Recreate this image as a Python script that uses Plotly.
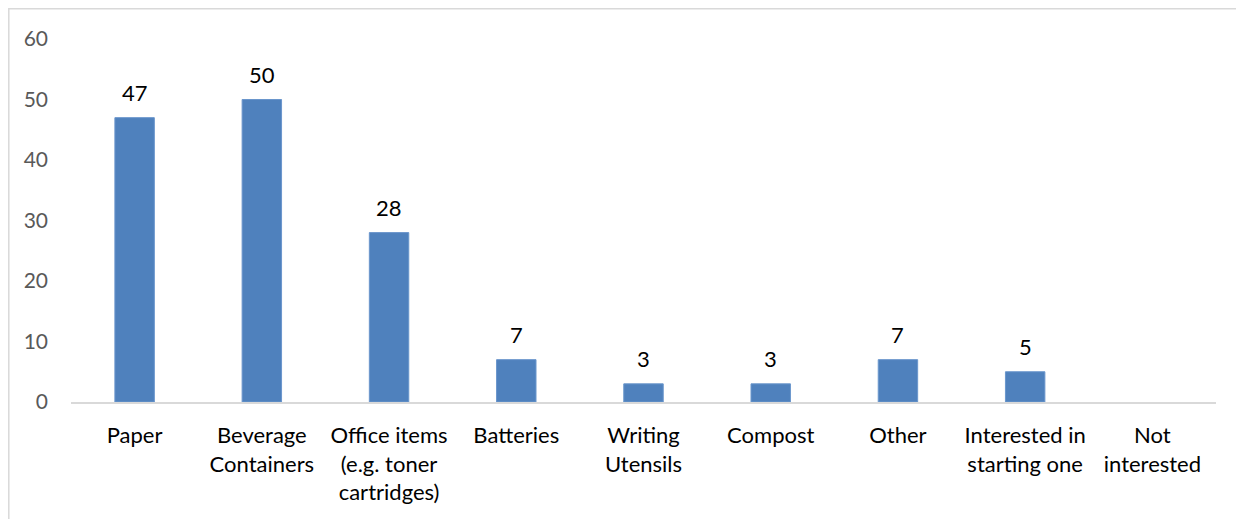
import plotly.graph_objects as go

categories = ["Paper", "Beverage<br>Containers", "Office items<br>(e.g. toner<br>cartridges)",
              "Batteries", "Writing<br>Utensils", "Compost", "Other",
              "Interested in<br>starting one", "Not<br>interested"]
values = [47, 50, 28, 7, 3, 3, 7, 5, None]
y_ticks = [0, 10, 20, 30, 40, 50, 60]

FONT = "Lato"
BAR = "#4F81BD"

# page body has an 8px margin, so the figure is shifted by 8px right/down
W, H = 1236, 511
L, R, T, B = 63, 28, 31, 117
plot_w = W - L - R
plot_h = H - T - B

fig = go.Figure()
fig.add_trace(go.Bar(
    x=categories, y=values,
    marker=dict(color=BAR, line=dict(color="#6A96CC", width=1)),
    hoverinfo="x+y",
))

for c, v in zip(categories, values):
    if v is None:
        continue
    fig.add_annotation(x=c, y=v, text=str(v), showarrow=False,
                       yanchor="bottom", yshift=10,
                       font=dict(family=FONT, size=22, color="#000000"))

fig.add_shape(type="rect", xref="paper", yref="paper",
              x0=(-L + 0.8) / plot_w, x1=1.2,
              y0=-0.6, y1=(plot_h + T - 0.8) / plot_h,
              line=dict(color="#D9D9D9", width=1.5), fillcolor="rgba(0,0,0,0)", layer="below")

fig.update_layout(
    width=W, height=H,
    margin=dict(l=L, r=R, t=T, b=B),
    paper_bgcolor="white", plot_bgcolor="white",
    bargap=0.69,
    showlegend=False,
    font=dict(family=FONT),
    xaxis=dict(
        showline=True, linecolor="#D9D9D9", linewidth=1.5,
        showgrid=False, ticks="", zeroline=False,
        tickfont=dict(family=FONT, size=22, color="#000000"),
        ticklabelstandoff=13,
    ),
    yaxis=dict(
        range=[0, 60], tickvals=y_ticks, showgrid=False, zeroline=False,
        showline=False, ticks="",
        tickfont=dict(family=FONT, size=21, color="#595959"),
        ticklabelstandoff=22,
    ),
)

fig.write_html("out.html")
